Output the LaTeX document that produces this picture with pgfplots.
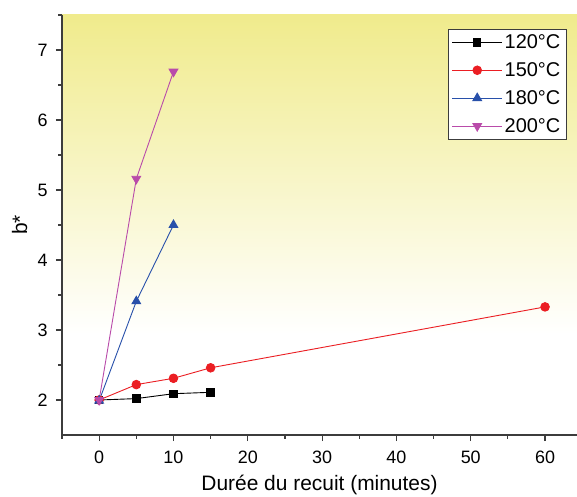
\documentclass[border=0pt]{standalone}
\usepackage{pgfplots}
\pgfplotsset{compat=1.18}
\usepackage{fontspec}
\setmainfont{Liberation Sans}
\definecolor{c120}{RGB}{0,0,0}
\definecolor{c150}{RGB}{235,30,35}
\definecolor{c180}{RGB}{40,80,170}
\definecolor{c200}{RGB}{185,75,170}
\definecolor{bgy}{RGB}{240,235,140}
\definecolor{axgray}{RGB}{60,60,60}
\pgfdeclareverticalshading{bgshade}{100bp}{color(0bp)=(white); color(25bp)=(white); color(37bp)=(white); color(75bp)=(bgy); color(100bp)=(bgy)}
\begin{document}
\begin{tikzpicture}
\useasboundingbox (-62bp,-62bp) rectangle (515bp,435bp);
\begin{axis}[
  at={(0,0)}, anchor=south west,
  width=515bp, height=420bp, scale only axis,
  xmin=-5, xmax=64.3, ymin=1.5, ymax=7.5,
  axis x line*=bottom, axis y line*=left,
  axis line style={-, axgray, line width=1.3bp},
  axis background/.style={shading=bgshade},
  xtick={0,10,...,60}, ytick={2,3,...,7},
  minor xtick={-5,5,15,25,35,45,55},
  minor ytick={2.5,3.5,...,7.5},
  tick align=outside,
  major tick length=6bp, minor tick length=3.5bp,
  every tick/.style={axgray, line width=1.2bp},
  /pgf/number format/assume math mode=true,
  ticklabel style={font=\fontsize{18}{21}\selectfont},
  xticklabel style={yshift=-6bp},
  yticklabel style={xshift=-5bp},
  xlabel={Durée du recuit (minutes)},
  ylabel={b*},
  xlabel style={font=\fontsize{21}{24}\selectfont, at={(axis description cs:0.5,-0.12)}, anchor=center},
  ylabel style={font=\fontsize{21}{24}\selectfont, at={(axis description cs:-0.082,0.5)}, anchor=center},
  legend style={at={(0.9786,0.9667)}, anchor=north east, draw=axgray, fill=white,
    font=\fontsize{20}{23}\selectfont, inner sep=3.5bp, row sep=8.5bp},
  legend cell align=left,
  legend image code/.code={\draw[mark repeat=2,mark phase=2] plot coordinates {(0bp,0bp) (25bp,0bp) (50bp,0bp)};},
]
\addplot[c120, line width=0.9bp, mark=square*, mark size=3.7bp] coordinates {(0,2.0) (5,2.02) (10,2.09) (15,2.11)};
\addlegendentry{120°C}
\addplot[c150, line width=0.9bp, mark=*, mark size=4.3bp] coordinates {(0,2.0) (5,2.22) (10,2.31) (15,2.46) (60,3.33)};
\addlegendentry{150°C}
\addplot[c180, line width=0.9bp, mark=triangle*, mark size=5bp] coordinates {(0,1.99) (5,3.41) (10,4.5)};
\addlegendentry{180°C}
\addplot[c200, line width=0.9bp, mark=triangle*, mark options={rotate=180}, mark size=5bp] coordinates {(0,2.0) (5,5.16) (10,6.69)};
\addlegendentry{200°C}
\end{axis}
\end{tikzpicture}
\end{document}
